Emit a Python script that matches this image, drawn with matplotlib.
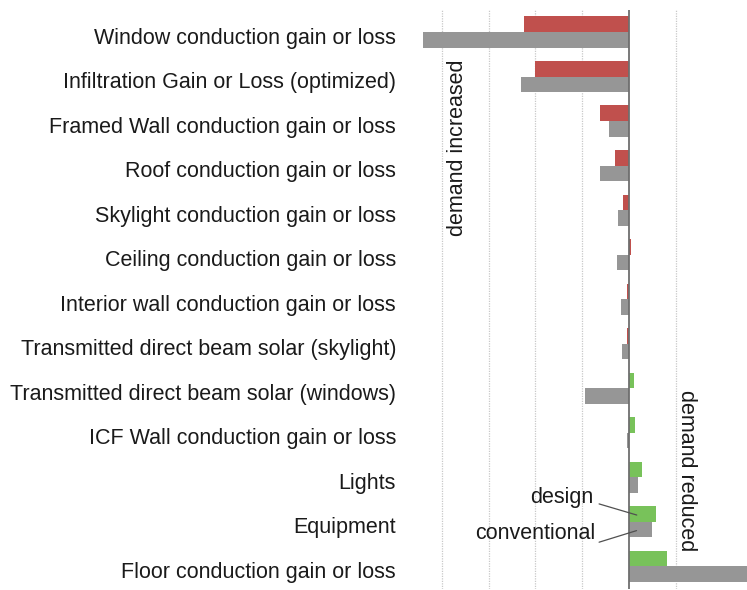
import numpy as np
import matplotlib
matplotlib.use("Agg")
from matplotlib import pyplot as plt

plt.rcParams['font.family'] = ['Liberation Sans', 'DejaVu Sans']

categories = [
    'Window conduction gain or loss',
    'Infiltration Gain or Loss (optimized)',
    'Framed Wall conduction gain or loss',
    'Roof conduction gain or loss',
    'Skylight conduction gain or loss',
    'Ceiling conduction gain or loss',
    'Interior wall conduction gain or loss',
    'Transmitted direct beam solar (skylight)',
    'Transmitted direct beam solar (windows)',
    'ICF Wall conduction gain or loss',
    'Lights',
    'Equipment',
    'Floor conduction gain or loss',
]
# one grid step = 10 units; negative = demand increased
design = [-22.4, -20.2, -6.2, -3.1, -1.2, 0.4, -0.5, -0.5, 1.1, 1.3, 2.7, 5.8, 8.1]
conventional = [-44.1, -23.1, -4.2, -6.2, -2.3, -2.6, -1.8, -1.5, -9.5, -0.5, 1.9, 5.0, 28.0]

red = '#C0504D'
green = '#78C25A'
gray = '#969696'
fs = 15.5

fig = plt.figure(figsize=(7.47, 5.90), dpi=100)
ax = fig.add_axes([410 / 747, 1 - 588.5 / 590, 337 / 747, 578.75 / 590])

y = np.arange(len(categories))
h = 0.35
design_colors = [green if v > 0 and i >= 8 else red for i, v in enumerate(design)]
ax.barh(y - h / 2, design, height=h, color=design_colors, zorder=2)
ax.barh(y + h / 2, conventional, height=h, color=gray, zorder=2)

ax.set_xlim(-46.8, 25.2)
ax.set_ylim(len(categories) - 0.5, -0.5)
ax.set_xticks([-40, -30, -20, -10, 10])
ax.xaxis.grid(True, color='#C8C8C8', linestyle=(0, (1, 1)), linewidth=0.9, zorder=0)
ax.tick_params(axis='x', length=0, labelbottom=False)
ax.axvline(0, color='#6E6E6E', linewidth=1.3, zorder=3)

ax.set_yticks(y + 0.08)
ax.set_yticklabels(categories, fontsize=fs, color='#1A1A1A')
ax.tick_params(axis='y', length=0, pad=10)
for s in ax.spines.values():
    s.set_visible(False)

ax.text(-36.6, 2.6, 'demand increased', rotation=90, fontsize=fs,
        ha='center', va='center', color='#1A1A1A')
ax.text(12.2, 9.85, 'demand reduced', rotation=-90, fontsize=fs,
        ha='center', va='center', color='#1A1A1A')

ax.text(-7.7, 10.45, 'design', fontsize=fs, ha='right', va='center', color='#1A1A1A')
ax.text(-7.3, 11.26, 'conventional', fontsize=fs, ha='right', va='center', color='#1A1A1A')
ax.annotate('', xy=(1.65, 10.85), xytext=(-6.4, 10.6),
            arrowprops=dict(arrowstyle='-', color='#505050', lw=0.9, shrinkA=0, shrinkB=0))
ax.annotate('', xy=(1.6, 11.2), xytext=(-6.4, 11.46),
            arrowprops=dict(arrowstyle='-', color='#505050', lw=0.9, shrinkA=0, shrinkB=0))

fig.savefig('out.png', dpi=100)
